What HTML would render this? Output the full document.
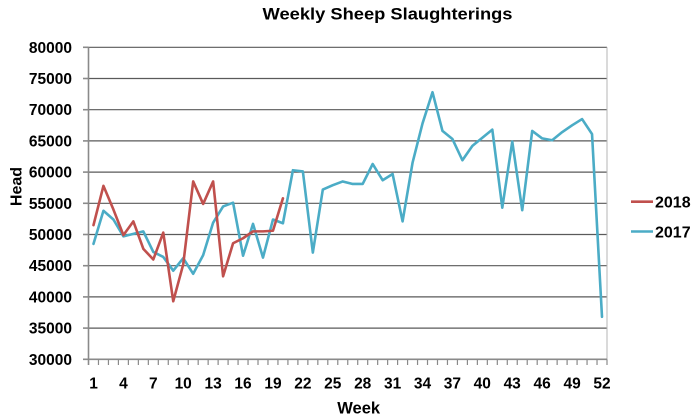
<!DOCTYPE html>
<html><head><meta charset="utf-8"><style>
html,body{margin:0;padding:0;background:#fff;}
svg{display:block;font-family:"Liberation Sans",sans-serif;font-weight:bold;}
</style></head><body>
<svg width="696" height="419" viewBox="0 0 696 419" xmlns="http://www.w3.org/2000/svg">
<rect width="696" height="419" fill="#fff"/>
<text x="387.5" y="19.5" font-size="17" text-anchor="middle" textLength="250" lengthAdjust="spacingAndGlyphs" fill="#000">Weekly Sheep Slaughterings</text>
<!-- gridlines -->
<g stroke="#5a5a5a" stroke-width="1.2">
<line x1="88.5" x2="607" y1="47.3" y2="47.3"/>
<line x1="88.5" x2="607" y1="78.5" y2="78.5"/>
<line x1="88.5" x2="607" y1="109.7" y2="109.7"/>
<line x1="88.5" x2="607" y1="140.9" y2="140.9"/>
<line x1="88.5" x2="607" y1="172.1" y2="172.1"/>
<line x1="88.5" x2="607" y1="203.3" y2="203.3"/>
<line x1="88.5" x2="607" y1="234.5" y2="234.5"/>
<line x1="88.5" x2="607" y1="265.7" y2="265.7"/>
<line x1="88.5" x2="607" y1="296.9" y2="296.9"/>
<line x1="88.5" x2="607" y1="328.1" y2="328.1"/>
</g>
<line x1="607" x2="607" y1="47.3" y2="359.3" stroke="#b5b5b5" stroke-width="1"/>
<!-- axes -->
<g stroke="#8a8a8a" stroke-width="1.6">
<line x1="88.5" x2="88.5" y1="47.3" y2="365"/>
<line x1="83" x2="607" y1="359.3" y2="359.3"/>
<line x1="83" x2="88.5" y1="47.3" y2="47.3"/>
<line x1="83" x2="88.5" y1="78.5" y2="78.5"/>
<line x1="83" x2="88.5" y1="109.7" y2="109.7"/>
<line x1="83" x2="88.5" y1="140.9" y2="140.9"/>
<line x1="83" x2="88.5" y1="172.1" y2="172.1"/>
<line x1="83" x2="88.5" y1="203.3" y2="203.3"/>
<line x1="83" x2="88.5" y1="234.5" y2="234.5"/>
<line x1="83" x2="88.5" y1="265.7" y2="265.7"/>
<line x1="83" x2="88.5" y1="296.9" y2="296.9"/>
<line x1="83" x2="88.5" y1="328.1" y2="328.1"/>
</g>
<g stroke="#8a8a8a" stroke-width="1.2" id="xticks">
<line x1="98.47" x2="98.47" y1="359.3" y2="365"/><line x1="108.44" x2="108.44" y1="359.3" y2="365"/><line x1="118.41" x2="118.41" y1="359.3" y2="365"/><line x1="128.38" x2="128.38" y1="359.3" y2="365"/><line x1="138.36" x2="138.36" y1="359.3" y2="365"/><line x1="148.33" x2="148.33" y1="359.3" y2="365"/><line x1="158.30" x2="158.30" y1="359.3" y2="365"/><line x1="168.27" x2="168.27" y1="359.3" y2="365"/><line x1="178.24" x2="178.24" y1="359.3" y2="365"/><line x1="188.21" x2="188.21" y1="359.3" y2="365"/>
<line x1="198.18" x2="198.18" y1="359.3" y2="365"/><line x1="208.15" x2="208.15" y1="359.3" y2="365"/><line x1="218.12" x2="218.12" y1="359.3" y2="365"/><line x1="228.09" x2="228.09" y1="359.3" y2="365"/><line x1="238.07" x2="238.07" y1="359.3" y2="365"/><line x1="248.04" x2="248.04" y1="359.3" y2="365"/><line x1="258.01" x2="258.01" y1="359.3" y2="365"/><line x1="267.98" x2="267.98" y1="359.3" y2="365"/><line x1="277.95" x2="277.95" y1="359.3" y2="365"/><line x1="287.92" x2="287.92" y1="359.3" y2="365"/>
<line x1="297.89" x2="297.89" y1="359.3" y2="365"/><line x1="307.86" x2="307.86" y1="359.3" y2="365"/><line x1="317.83" x2="317.83" y1="359.3" y2="365"/><line x1="327.80" x2="327.80" y1="359.3" y2="365"/><line x1="337.78" x2="337.78" y1="359.3" y2="365"/><line x1="347.75" x2="347.75" y1="359.3" y2="365"/><line x1="357.72" x2="357.72" y1="359.3" y2="365"/><line x1="367.69" x2="367.69" y1="359.3" y2="365"/><line x1="377.66" x2="377.66" y1="359.3" y2="365"/><line x1="387.63" x2="387.63" y1="359.3" y2="365"/>
<line x1="397.60" x2="397.60" y1="359.3" y2="365"/><line x1="407.57" x2="407.57" y1="359.3" y2="365"/><line x1="417.54" x2="417.54" y1="359.3" y2="365"/><line x1="427.51" x2="427.51" y1="359.3" y2="365"/><line x1="437.49" x2="437.49" y1="359.3" y2="365"/><line x1="447.46" x2="447.46" y1="359.3" y2="365"/><line x1="457.43" x2="457.43" y1="359.3" y2="365"/><line x1="467.40" x2="467.40" y1="359.3" y2="365"/><line x1="477.37" x2="477.37" y1="359.3" y2="365"/><line x1="487.34" x2="487.34" y1="359.3" y2="365"/>
<line x1="497.31" x2="497.31" y1="359.3" y2="365"/><line x1="507.28" x2="507.28" y1="359.3" y2="365"/><line x1="517.25" x2="517.25" y1="359.3" y2="365"/><line x1="527.22" x2="527.22" y1="359.3" y2="365"/><line x1="537.20" x2="537.20" y1="359.3" y2="365"/><line x1="547.17" x2="547.17" y1="359.3" y2="365"/><line x1="557.14" x2="557.14" y1="359.3" y2="365"/><line x1="567.11" x2="567.11" y1="359.3" y2="365"/><line x1="577.08" x2="577.08" y1="359.3" y2="365"/><line x1="587.05" x2="587.05" y1="359.3" y2="365"/>
<line x1="597.02" x2="597.02" y1="359.3" y2="365"/><line x1="607" x2="607" y1="359.3" y2="365"/>
</g>
<!-- y labels -->
<g font-size="15.5" text-anchor="end" fill="#000">
<text x="72" y="52.8">80000</text>
<text x="72" y="84">75000</text>
<text x="72" y="115.2">70000</text>
<text x="72" y="146.4">65000</text>
<text x="72" y="177.6">60000</text>
<text x="72" y="208.8">55000</text>
<text x="72" y="240">50000</text>
<text x="72" y="271.2">45000</text>
<text x="72" y="302.4">40000</text>
<text x="72" y="333.6">35000</text>
<text x="72" y="364.8">30000</text>
</g>
<!-- x labels -->
<g font-size="15.5" text-anchor="middle" fill="#000">
<text x="93.5" y="388.5">1</text>
<text x="123.4" y="388.5">4</text>
<text x="153.3" y="388.5">7</text>
<text x="183.2" y="388.5">10</text>
<text x="213.1" y="388.5">13</text>
<text x="243.0" y="388.5">16</text>
<text x="273.0" y="388.5">19</text>
<text x="302.9" y="388.5">22</text>
<text x="332.8" y="388.5">25</text>
<text x="362.7" y="388.5">28</text>
<text x="392.6" y="388.5">31</text>
<text x="422.5" y="388.5">34</text>
<text x="452.4" y="388.5">37</text>
<text x="482.3" y="388.5">40</text>
<text x="512.2" y="388.5">43</text>
<text x="542.1" y="388.5">46</text>
<text x="572.1" y="388.5">49</text>
<text x="602.0" y="388.5">52</text>
</g>
<text x="358.7" y="413.5" font-size="16.5" text-anchor="middle" fill="#000">Week</text>
<text transform="translate(21.5 186.5) rotate(-90)" font-size="16" text-anchor="middle" fill="#000">Head</text>
<!-- series -->
<g transform="matrix(9.971 0 0 -6.24 83.51 546.5)" fill="none" stroke-linejoin="round" stroke-linecap="round">
<polyline vector-effect="non-scaling-stroke" stroke="#4BACC6" stroke-width="2.6" points="1,48.5 2,53.8 3,52.4 4,49.7 5,50.1 6,50.5 7,47.2 8,46.4 9,44.2 10,46.2 11,43.7 12,46.7 13,51.9 14,54.5 15,55.1 16,46.6 17,51.7 18,46.3 19,52.4 20,51.8 21,60.3 22,60.1 23,47.1 24,57.2 25,57.9 26,58.5 27,58.1 28,58.1 29,61.3 30,58.7 31,59.7 32,52.1 33,61.5 34,67.8 35,72.8 36,66.6 37,65.3 38,61.9 39,64.2 40,65.5 41,66.8 42,54.3 43,64.9 44,53.9 45,66.6 46,65.4 47,65.1 48,66.4 49,67.5 50,68.5 51,66.1 52,36.8"/>
<polyline vector-effect="non-scaling-stroke" stroke="#C0504D" stroke-width="2.6" points="1,51.5 2,57.8 3,54.0 4,49.9 5,52.1 6,47.7 7,46.0 8,50.3 9,39.3 10,45.2 11,58.5 12,54.9 13,58.5 14,43.3 15,48.6 16,49.4 17,50.5 18,50.5 19,50.6 20,55.8"/>
</g>
<!-- legend -->
<line x1="631" x2="653" y1="201.7" y2="201.7" stroke="#C0504D" stroke-width="2.6"/>
<text x="655" y="207.5" font-size="16" fill="#000">2018</text>
<line x1="631" x2="653" y1="231.5" y2="231.5" stroke="#4BACC6" stroke-width="2.6"/>
<text x="655" y="237.3" font-size="16" fill="#000">2017</text>
</svg>
</body></html>
